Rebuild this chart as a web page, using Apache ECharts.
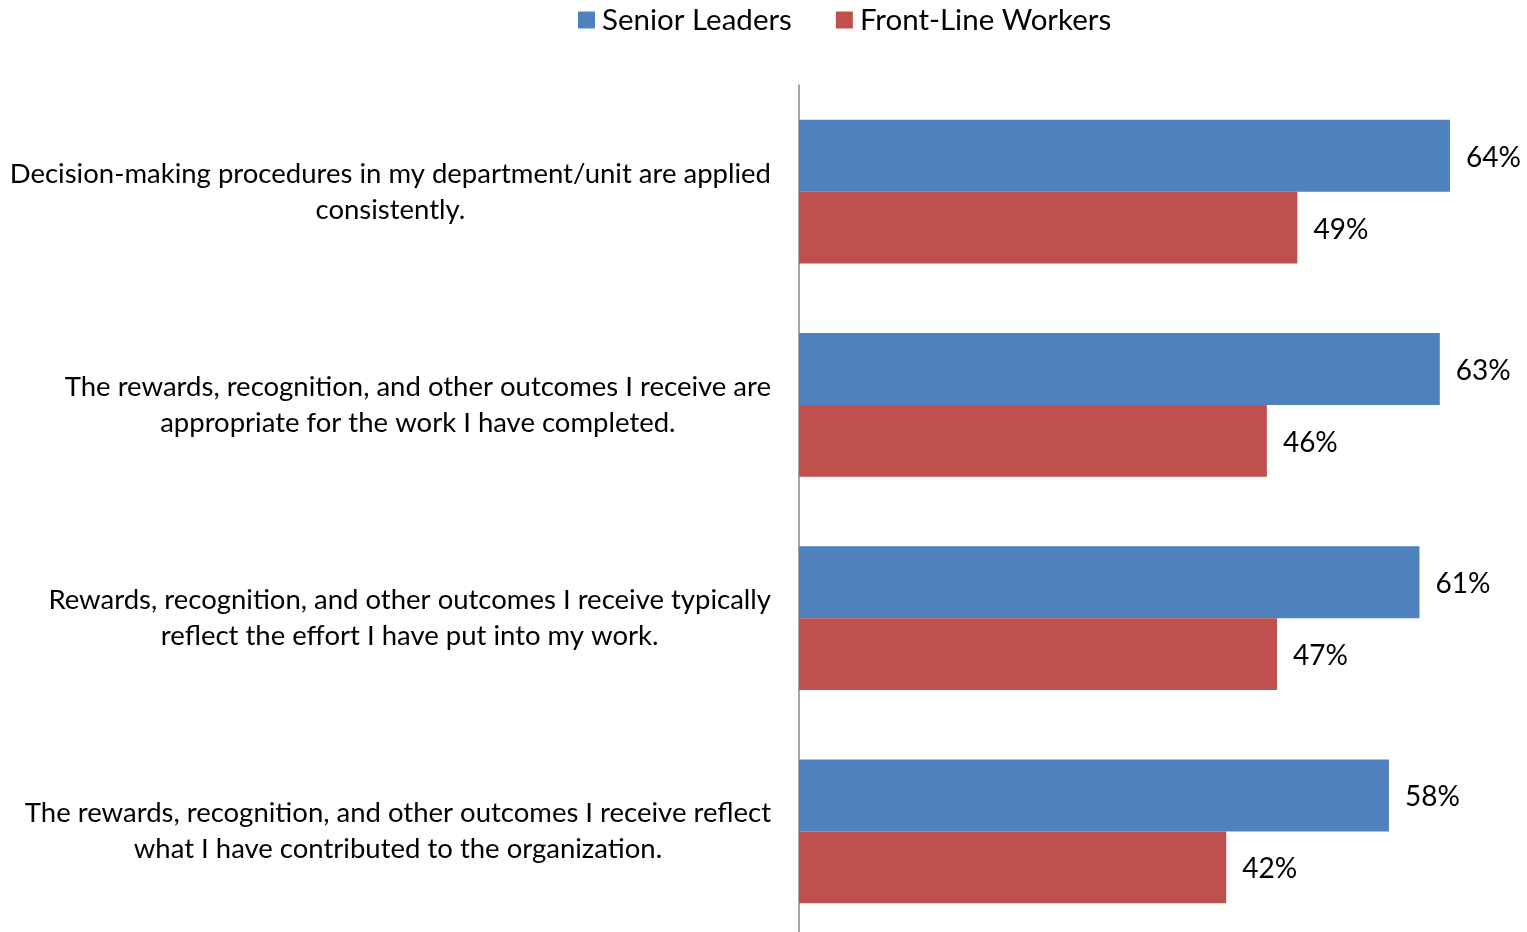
<!DOCTYPE html>
<html>
<head>
<meta charset="utf-8">
<script src="https://cdn.jsdelivr.net/npm/echarts@6/dist/echarts.min.js"></script>
<style>
  html, body { margin: 0; padding: 0; background: #fff; overflow: hidden; }
  #chart { width: 1527px; height: 938px; }
</style>
</head>
<body>
<div id="chart"></div>
<script>
const categories = [
  'Decision-making procedures in my department/unit are applied\nconsistently.',
  'The rewards, recognition, and other outcomes I receive are\nappropriate for the work I have completed.',
  'Rewards, recognition, and other outcomes I receive typically\nreflect the effort I have put into my work.',
  'The rewards, recognition, and other outcomes I receive reflect\nwhat I have contributed to the organization.'
]
const seniorLeaders = [64, 63, 61, 58]
const frontLineWorkers = [49, 46, 47, 42]

const FONT = 'Lato'

// plot area runs a little past the bottom of the window, like the original
const chart = echarts.init(document.getElementById('chart'))

function barSeries(name, data, color) {
  return {
    name,
    type: 'bar',
    data,
    barCategoryGap: '32.5%',
    barGap: '0%',
    itemStyle: { color },
    label: {
      show: true,
      position: 'right',
      distance: 16,
      offset: [0, 2],
      formatter: p => p.value + '%',
      color: '#000',
      fontFamily: FONT,
      fontSize: 28
    },
    animation: false
  }
}

chart.setOption({
  textStyle: { fontFamily: FONT },
  legend: {
    top: 0,
    left: 573,
    itemWidth: 17,
    itemHeight: 17,
    itemGap: 44,
    icon: 'rect',
    textStyle: { fontSize: 29.5, color: '#000', fontFamily: FONT, padding: [0, 0, 0, 2] },
    data: ['Senior Leaders', 'Front-Line Workers']
  },
  grid: {
    left: 799,
    top: 85,
    right: 16,
    bottom: 0,
    containLabel: false
  },
  xAxis: {
    type: 'value',
    min: 0,
    max: 70,
    show: false
  },
  yAxis: {
    type: 'category',
    inverse: true,
    data: categories,
    axisLine: { show: true, lineStyle: { color: '#888', width: 1.5 } },
    axisTick: { show: false },
    axisLabel: {
      margin: 28,
      formatter: v => v.split('\n').map(s => '{c|' + s + '}').join('\n'),
      rich: {
        c: {
          align: 'center',
          fontSize: 27.5,
          lineHeight: 36,
          color: '#000',
          fontFamily: FONT
        }
      }
    }
  },
  series: [
    barSeries('Senior Leaders', seniorLeaders, '#4F81BD'),
    barSeries('Front-Line Workers', frontLineWorkers, '#C0504D')
  ]
})
</script>
</body>
</html>
